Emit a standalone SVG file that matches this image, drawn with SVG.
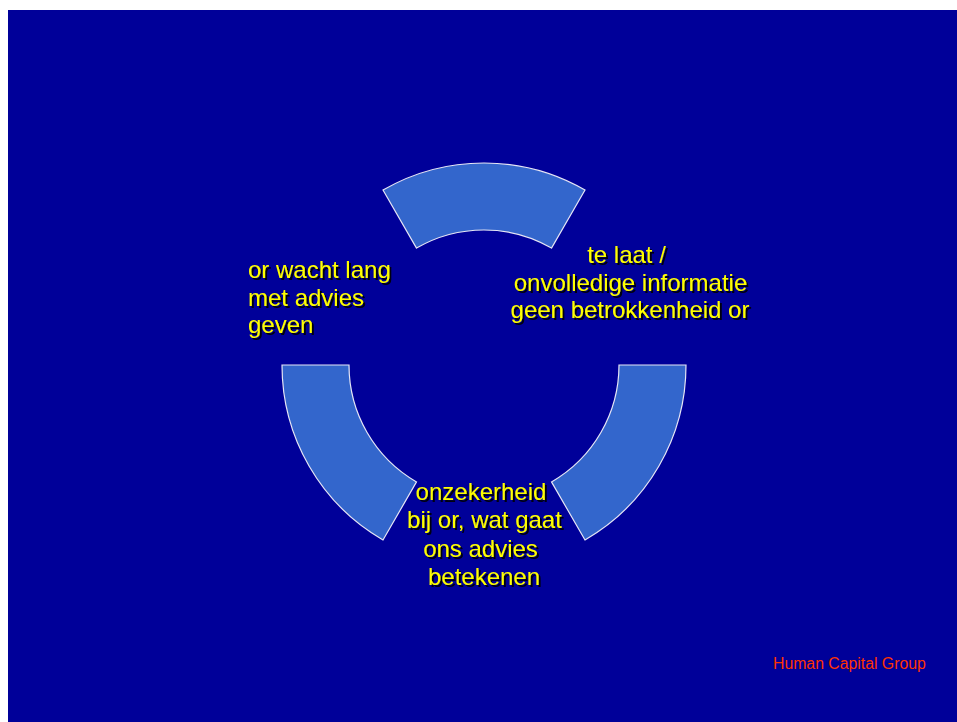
<svg xmlns="http://www.w3.org/2000/svg" width="957" height="722" viewBox="0 0 957 722">
<defs>
<filter id="sh" x="-10%" y="-10%" width="120%" height="130%">
<feDropShadow dx="2" dy="2" stdDeviation="0" flood-color="#000000" flood-opacity="0.9"/>
</filter>
</defs>
<style>
.seg{fill:#3366CC;stroke:#E6E6F5;stroke-width:1.2}
.lbl{font-family:"Liberation Sans",Arial,sans-serif;font-size:24px;fill:#FFFF00;filter:url(#sh)}
.foot{font-family:"Liberation Sans",Arial,sans-serif;font-size:15.8px;fill:#FF3300}
</style>
<rect x="0" y="0" width="957" height="722" fill="#FFFFFF"/>
<rect x="8" y="10" width="949" height="712" fill="#000099"/>
<g id="connectors"></g>
<g id="seg-top"><path class="seg" d="M383,190.06 A202,202 0 0 1 585,190.06 L551.5,248.09 A135,135 0 0 0 416.5,248.09 Z"/></g>
<g id="seg-left"><path class="seg" d="M282,365 A202,202 0 0 0 383,539.94 L416.5,481.91 A135,135 0 0 1 349,365 Z"/></g>
<g id="seg-right"><path class="seg" d="M686,365 A202,202 0 0 1 585,539.94 L551.5,481.91 A135,135 0 0 0 619,365 Z"/></g>
<g id="label-left">
<text class="lbl" x="248" y="278">or wacht lang</text>
<text class="lbl" x="248" y="305.5">met advies</text>
<text class="lbl" x="248" y="333">geven</text>
</g>
<g id="label-right">
<text class="lbl" x="626.5" y="263" text-anchor="middle">te laat /</text>
<text class="lbl" x="630.5" y="290.5" text-anchor="middle">onvolledige informatie</text>
<text class="lbl" x="630" y="318" text-anchor="middle">geen betrokkenheid or</text>
</g>
<g id="label-bottom">
<text class="lbl" x="481" y="500" text-anchor="middle">onzekerheid</text>
<text class="lbl" x="484.5" y="528.3" text-anchor="middle">bij or, wat gaat</text>
<text class="lbl" x="480.5" y="556.6" text-anchor="middle">ons advies</text>
<text class="lbl" x="484" y="585" text-anchor="middle">betekenen</text>
</g>
<g id="footer"><text class="foot" x="773" y="669">Human Capital Group</text></g>
</svg>
